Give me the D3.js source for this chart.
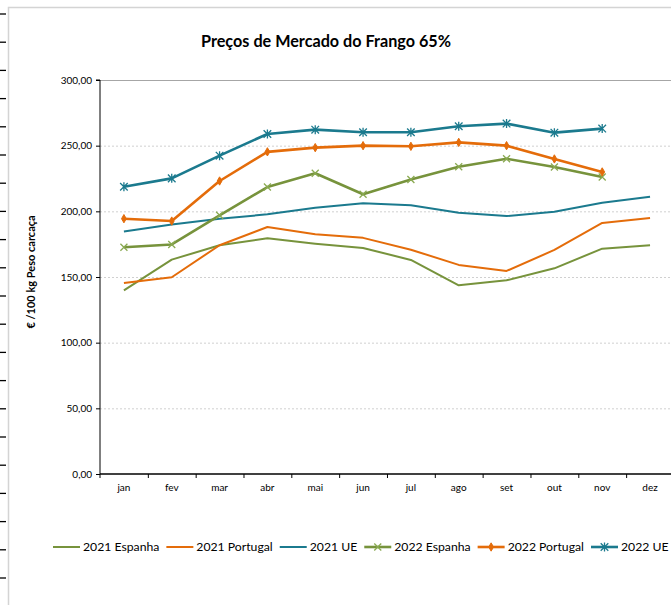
<!DOCTYPE html>
<html>
<head>
<meta charset="utf-8">
<script src="https://cdn.jsdelivr.net/npm/d3@7"></script>
<style>
  body { margin: 0; background: #fff; }
  svg { display: block; font-family: Lato, "Open Sans", sans-serif; }
</style>
</head>
<body>
<svg id="chart" width="671" height="605"></svg>
<script>
// dados (€ / 100 kg)
const meses = ['jan', 'fev', 'mar', 'abr', 'mai', 'jun', 'jul', 'ago', 'set', 'out', 'nov', 'dez'];
const espanha2021 = [139.8, 163.2, 174.2, 179.5, 175.4, 172.1, 163.0, 143.7, 147.5, 156.6, 171.6, 174.2];
const portugal2021 = [145.5, 149.8, 174.2, 188.1, 182.5, 179.8, 170.8, 159.2, 154.6, 170.6, 191.2, 195.0];
const ue2021 = [184.7, 190.0, 194.4, 197.7, 202.7, 206.1, 204.6, 199.0, 196.4, 199.7, 206.6, 211.1];
const espanha2022 = [172.7, 174.8, 197.0, 218.5, 229.0, 213.0, 224.3, 234.0, 240.0, 233.8, 226.2];
const portugal2022 = [194.4, 192.6, 223.1, 245.3, 248.5, 250.0, 249.5, 252.5, 250.0, 239.9, 230.0];
const ue2022 = [218.7, 225.1, 242.4, 258.9, 262.2, 260.2, 260.2, 264.8, 266.8, 259.9, 263.0];
const yTicks = [0, 50, 100, 150, 200, 250, 300];

const verde = '#77933C', laranja = '#E46C0A', azul = '#1B7A8E';

const series = [
  { nome: '2021 Espanha', valores: espanha2021, cor: verde, largura: 2, marca: null },
  { nome: '2021 Portugal', valores: portugal2021, cor: laranja, largura: 2, marca: null },
  { nome: '2021 UE', valores: ue2021, cor: azul, largura: 2, marca: null },
  { nome: '2022 Espanha', valores: espanha2022, cor: verde, largura: 2.6, marca: 'x' },
  { nome: '2022 Portugal', valores: portugal2022, cor: laranja, largura: 2.6, marca: 'diamond' },
  { nome: '2022 UE', valores: ue2022, cor: azul, largura: 2.6, marca: 'star' }
];

const svg = d3.select('#chart');
const plotLeft = 100, plotTop = 80, plotBottom = 474, bandW = 47.83;

const x = d3.scaleBand().domain(meses).range([plotLeft, plotLeft + 12 * bandW]).padding(0);
const xEdges = d3.scaleLinear().domain([0, 12]).range([plotLeft, plotLeft + 12 * bandW]);
const y = d3.scaleLinear().domain([0, 300]).range([plotBottom, plotTop]);

// marcas da folha à esquerda e moldura
svg.append('g').selectAll('line').data(d3.range(21)).join('line')
  .attr('x1', 0).attr('x2', 6)
  .attr('y1', d => 14 + d * 28.2).attr('y2', d => 14 + d * 28.2)
  .attr('stroke', '#000').attr('stroke-width', 1.3);
svg.append('path')
  .attr('d', 'M8.5,605 L8.5,7.5 L671,7.5')
  .attr('fill', 'none').attr('stroke', '#D4D4D4').attr('stroke-width', 1.5);

// título
svg.append('text')
  .attr('x', 326).attr('y', 47)
  .attr('text-anchor', 'middle')
  .attr('font-size', 16.2).attr('font-weight', 'bold')
  .text('Preços de Mercado do Frango 65%');

// grelha
svg.append('g').selectAll('line').data(yTicks.filter(d => d > 0 && d < 300)).join('line')
  .attr('x1', plotLeft).attr('x2', 671)
  .attr('y1', d => y(d) + 0.5).attr('y2', d => y(d) + 0.5)
  .attr('stroke', '#D0D0D0').attr('stroke-dasharray', '2,2');
svg.append('line')
  .attr('x1', plotLeft).attr('x2', 671)
  .attr('y1', y(300) + 0.5).attr('y2', y(300) + 0.5)
  .attr('stroke', '#A6A6A6');

// eixo y
const yAxis = svg.append('g')
  .attr('transform', `translate(${plotLeft},0)`)
  .call(d3.axisLeft(y).tickValues(yTicks).tickSize(4).tickPadding(4)
    .tickFormat(d => d3.format('.2f')(d).replace('.', ',')));
yAxis.select('.domain').attr('d', `M-4,${y(300)}H0V${plotBottom + 4}`);
yAxis.selectAll('text').attr('font-size', 10).attr('font-family', 'Lato, sans-serif').attr('fill', '#000');
yAxis.selectAll('line').attr('stroke', '#000');

// eixo x: rótulos ao centro, marcas nas fronteiras
const xAxis = svg.append('g')
  .attr('transform', `translate(0,${plotBottom})`)
  .call(d3.axisBottom(x).tickSize(0).tickPadding(10));
xAxis.select('.domain').remove();
xAxis.selectAll('text').attr('font-size', 10).attr('font-family', 'Lato, sans-serif').attr('fill', '#000');

const xTicks = svg.append('g')
  .attr('transform', `translate(0,${plotBottom})`)
  .call(d3.axisBottom(xEdges).tickValues(d3.range(1, 13)).tickSize(4).tickFormat(''));
xTicks.select('.domain').attr('d', `M${plotLeft},0H671`).attr('stroke-width', 1.3);
xTicks.selectAll('line').attr('stroke', '#000');

// linhas
const linha = d3.line()
  .x((d, i) => x(meses[i]) + x.bandwidth() / 2)
  .y(d => y(d));

function desenhaMarca(g, tipo, cor) {
  if (tipo === 'x') {
    g.append('path').attr('d', 'M-3.5,-3.5L3.5,3.5M-3.5,3.5L3.5,-3.5')
      .attr('stroke', '#8AAA52').attr('stroke-width', 1.3).attr('fill', 'none');
  } else if (tipo === 'diamond') {
    g.append('path').attr('d', d3.symbol(d3.symbolDiamond, 20)())
      .attr('fill', cor).attr('stroke', cor);
  } else if (tipo === 'star') {
    g.append('path').attr('d', 'M-3.8,-3.8L3.8,3.8M-3.8,3.8L3.8,-3.8M0,-4.5L0,4.5')
      .attr('stroke', cor).attr('stroke-width', 1.3).attr('fill', 'none');
  }
}

series.forEach(s => {
  svg.append('path')
    .datum(s.valores)
    .attr('d', linha)
    .attr('fill', 'none')
    .attr('stroke', s.cor)
    .attr('stroke-width', s.largura)
    .attr('stroke-linejoin', 'round');
  if (s.marca) {
    s.valores.forEach((v, i) => {
      const g = svg.append('g')
        .attr('transform', `translate(${x(meses[i]) + x.bandwidth() / 2},${y(v)})`);
      desenhaMarca(g, s.marca, s.cor);
    });
  }
});

// título do eixo y
svg.append('text')
  .attr('transform', 'translate(35,272) rotate(-90)')
  .attr('text-anchor', 'middle')
  .attr('font-size', 11).attr('font-weight', 'bold')
  .text('€ /100 kg Peso carcaça');

// legenda: ajusta o tamanho da letra para caber entre x=53 e x=669
const legenda = svg.append('g').attr('transform', 'translate(0,547)');
const amostra = 27, folga = 3, entre = 7;
const textos = series.map(s => legenda.append('text').attr('font-size', 12.5).text(s.nome));
const soma = d3.sum(textos, t => t.node().getComputedTextLength());
const disponivel = (669 - 53) - series.length * (amostra + folga) - (series.length - 1) * entre;
const fs = 12.5 * disponivel / soma;
let cx = 53;
series.forEach((s, i) => {
  const g = legenda.append('g').attr('transform', `translate(${cx},0)`);
  g.append('line').attr('x1', 0).attr('x2', amostra).attr('y1', 0).attr('y2', 0)
    .attr('stroke', s.cor).attr('stroke-width', s.largura);
  if (s.marca) {
    const m = g.append('g').attr('transform', `translate(${amostra / 2},0)`);
    desenhaMarca(m, s.marca, s.cor);
  }
  const t = textos[i].attr('font-size', fs)
    .attr('x', cx + amostra + folga).attr('y', 4.3);
  cx += amostra + folga + t.node().getComputedTextLength() + entre;
});
</script>
</body>
</html>
